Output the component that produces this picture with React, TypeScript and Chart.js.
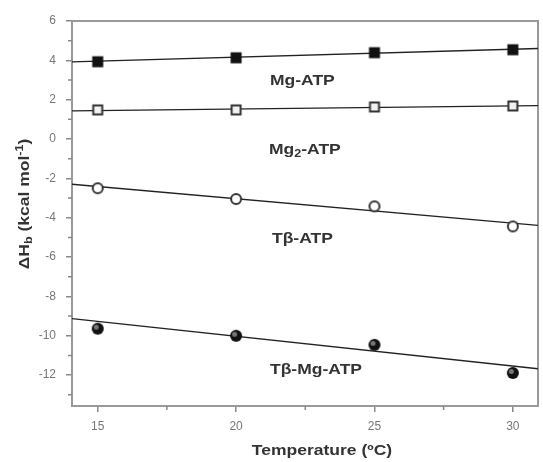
import React, { useEffect, useRef } from 'react';
import { Chart, registerables } from 'chart.js';
Chart.register(...registerables);

const temperatures = [15, 20, 25, 30];
const mgAtp = [3.93, 4.13, 4.39, 4.54];
const mg2Atp = [1.48, 1.48, 1.63, 1.68];
const tbAtp = [-2.5, -3.05, -3.42, -4.44];
const tbMgAtp = [-9.64, -10.0, -10.46, -11.89];

const fitX = [14.07, 30.91];
const mgAtpFit = [3.92, 4.6];
const mg2AtpFit = [1.43, 1.7];
const tbAtpFit = [-2.3, -4.39];
const tbMgAtpFit = [-9.13, -11.68];

const xTicks = [15, 20, 25, 30];
const yTicks = [-12, -10, -8, -6, -4, -2, 0, 2, 4, 6];
const xMinorTicks = [17.5, 22.5, 27.5];
const yMinorTicks = [-13, -11, -9, -7, -5, -3, -1, 1, 3, 5];

const FONT = "'Liberation Sans', Arial, sans-serif";
const TEXT_COLOR = '#333';
const STRETCH = 1.25;

type Part = { text: string; size: number; dy: number };

function drawRich(ctx: CanvasRenderingContext2D, parts: Part[], x: number, y: number, anchor: 'left' | 'center', rotate = false) {
  ctx.save();
  ctx.translate(x, y);
  if (rotate) ctx.rotate(-Math.PI / 2);
  ctx.scale(STRETCH, 1);
  ctx.fillStyle = TEXT_COLOR;
  ctx.textBaseline = 'middle';
  ctx.textAlign = 'left';
  let total = 0;
  const widths = parts.map((p) => {
    ctx.font = `bold ${p.size}px ${FONT}`;
    const w = ctx.measureText(p.text).width;
    total += w;
    return w;
  });
  let cx = anchor === 'center' ? -total / 2 : 0;
  parts.forEach((p, i) => {
    ctx.font = `bold ${p.size}px ${FONT}`;
    ctx.fillText(p.text, cx, p.dy);
    cx += widths[i];
  });
  ctx.restore();
}

function makeMarker(kind: string): HTMLCanvasElement {
  const c = document.createElement('canvas');
  c.width = 16;
  c.height = 16;
  const g = c.getContext('2d')!;
  const m = 8;
  if (kind === 'filledSquare') {
    g.fillStyle = '#111';
    g.fillRect(m - 5.5, m - 5.5, 11, 11);
  } else if (kind === 'openSquare') {
    g.fillStyle = '#f2f2f2';
    g.fillRect(m - 5, m - 5, 10, 10);
    g.strokeStyle = '#333';
    g.lineWidth = 2;
    g.strokeRect(m - 4.5, m - 4.5, 9, 9);
  } else if (kind === 'openCircle') {
    g.beginPath();
    g.arc(m, m, 5, 0, Math.PI * 2);
    g.fillStyle = '#fff';
    g.fill();
    g.strokeStyle = '#333';
    g.lineWidth = 2;
    g.stroke();
  } else {
    g.beginPath();
    g.arc(m, m, 6, 0, Math.PI * 2);
    g.fillStyle = '#111';
    g.fill();
    g.beginPath();
    g.arc(m - 1.5, m - 1.5, 2.5, 0, Math.PI * 2);
    g.fillStyle = '#777';
    g.fill();
  }
  return c;
}

const toXY = (xs: number[], ys: number[]) => xs.map((x, i) => ({ x, y: ys[i] }));

export default function App() {
  const ref = useRef<HTMLCanvasElement | null>(null);

  useEffect(() => {
    if (!ref.current) return;

    const framePlugin = {
      id: 'frameAndMinor',
      beforeDatasetsDraw(chart: any) {
        const { ctx, chartArea: a, scales } = chart;
        ctx.save();
        ctx.strokeStyle = '#999';
        ctx.lineWidth = 2;
        ctx.strokeRect(a.left, a.top, a.right - a.left, a.bottom - a.top);
        ctx.strokeStyle = '#888';
        ctx.lineWidth = 1.5;
        ctx.beginPath();
        yMinorTicks.forEach((v) => {
          const py = scales.y.getPixelForValue(v);
          ctx.moveTo(a.left - 4, py);
          ctx.lineTo(a.left, py);
        });
        xMinorTicks.forEach((v) => {
          const px = scales.x.getPixelForValue(v);
          ctx.moveTo(px, a.bottom);
          ctx.lineTo(px, a.bottom + 4);
        });
        ctx.stroke();
        ctx.restore();
      },
      afterDraw(chart: any) {
        const ctx = chart.ctx as CanvasRenderingContext2D;
        drawRich(ctx, [{ text: 'Mg-ATP', size: 14, dy: 0 }], 270, 81, 'left');
        drawRich(ctx, [
          { text: 'Mg', size: 14, dy: 0 },
          { text: '2', size: 10, dy: 4 },
          { text: '-ATP', size: 14, dy: 0 },
        ], 269, 150, 'left');
        drawRich(ctx, [{ text: 'Tβ-ATP', size: 14, dy: 0 }], 272, 239, 'left');
        drawRich(ctx, [{ text: 'Tβ-Mg-ATP', size: 14, dy: 0 }], 270, 370, 'left');
        drawRich(ctx, [{ text: 'Temperature (ºC)', size: 14, dy: 0 }], 322, 451, 'center');
        drawRich(ctx, [
          { text: 'ΔH', size: 14, dy: 0 },
          { text: 'b', size: 10, dy: 4 },
          { text: ' (kcal mol', size: 14, dy: 0 },
          { text: '-1', size: 10, dy: -5 },
          { text: ')', size: 14, dy: 0 },
        ], 25, 204, 'center', true);
      },
    };

    const markers = {
      fs: makeMarker('filledSquare'),
      os: makeMarker('openSquare'),
      oc: makeMarker('openCircle'),
      hc: makeMarker('halfCircle'),
    };

    const pointDs = (data: number[], style: HTMLCanvasElement) => ({
      type: 'scatter' as const,
      data: toXY(temperatures, data),
      pointStyle: style,
      showLine: false,
      order: 0,
      clip: false as any,
    });
    const lineDs = (data: number[]) => ({
      type: 'line' as const,
      data: toXY(fitX, data),
      borderColor: '#222',
      borderWidth: 1.4,
      pointRadius: 0,
      fill: false,
      order: 1,
    });

    const chart = new Chart(ref.current, {
      type: 'scatter',
      data: {
        datasets: [
          pointDs(mgAtp, markers.fs),
          pointDs(mg2Atp, markers.os),
          pointDs(tbAtp, markers.oc),
          pointDs(tbMgAtp, markers.hc),
          lineDs(mgAtpFit),
          lineDs(mg2AtpFit),
          lineDs(tbAtpFit),
          lineDs(tbMgAtpFit),
        ] as any,
      },
      options: {
        responsive: false,
        maintainAspectRatio: false,
        animation: false,
        layout: { padding: { top: 21, right: 1, left: 0, bottom: 0 } },
        plugins: { legend: { display: false }, tooltip: { enabled: false } },
        scales: {
          x: {
            type: 'linear',
            min: fitX[0],
            max: fitX[1],
            afterFit: (s: any) => { s.height = 56; },
            afterBuildTicks: (s: any) => { s.ticks = xTicks.map((v) => ({ value: v })); },
            border: { display: false },
            grid: { drawOnChartArea: false, drawTicks: true, tickLength: 6, color: '#888', lineWidth: 1.5 },
            ticks: { color: '#777', font: { size: 12, family: FONT }, padding: 7, maxRotation: 0 },
          },
          y: {
            type: 'linear',
            min: -13.57,
            max: 6,
            afterFit: (s: any) => { s.width = 72; },
            afterBuildTicks: (s: any) => { s.ticks = yTicks.map((v) => ({ value: v })); },
            border: { display: false },
            grid: { drawOnChartArea: false, drawTicks: true, tickLength: 6, color: '#888', lineWidth: 1.5 },
            ticks: { color: '#777', font: { size: 12, family: FONT }, padding: 10 },
          },
        },
      } as any,
      plugins: [framePlugin],
    });
    return () => chart.destroy();
  }, []);

  return (
    <div style={{ position: 'absolute', left: 0, top: 0, width: 543, height: 462, background: '#fff' }}>
      <canvas ref={ref} width={543} height={462} />
    </div>
  );
}
